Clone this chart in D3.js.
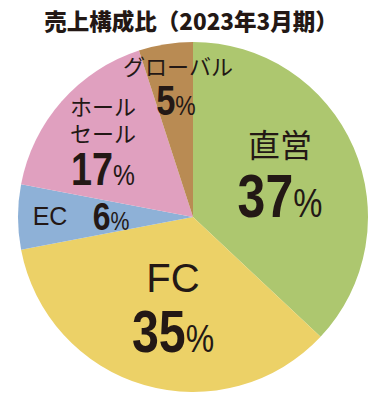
<!DOCTYPE html>
<html>
<head>
<meta charset="utf-8">
<script src="https://cdn.jsdelivr.net/npm/d3@7"></script>
<style>
  body { margin: 0; background: #fff; }
  svg text { fill: #231815; }
</style>
</head>
<body>
<div id="chart"></div>
<script>
// data
const categories = ["直営", "FC", "EC", "ホールセール", "グローバル"];
const shares = [37, 35, 6, 17, 5];
const colors = ["#adc76f", "#ecd167", "#8eb1d7", "#e0a0bf", "#b98b53"];

const width = 390, height = 409;
const cx = 193, cy = 217, radius = 175;

const svg = d3.select("#chart").append("svg")
    .attr("width", width)
    .attr("height", height);

// title
svg.append("text")
    .attr("x", 191)
    .attr("y", 30)
    .attr("text-anchor", "middle")
    .style("font-family", "'Noto Sans CJK JP'")
    .style("font-weight", 900)
    .style("font-size", "22.5px")
    .text("売上構成比（2023年3月期）");

const g = svg.append("g")
    .attr("transform", `translate(${cx}, ${cy})`);

const pie = d3.pie().sort(null).value(d => d.value);
const arc = d3.arc().innerRadius(0).outerRadius(radius);

const data = categories.map((c, i) => ({name: c, value: shares[i], color: colors[i]}));

g.selectAll(".slice")
    .data(pie(data))
    .enter().append("path")
    .attr("class", "slice")
    .attr("d", arc)
    .style("fill", d => d.data.color);

// labels (name lines + big percentage)
const labels = [
    {lines: ["直営"], lx: 280, ly: 157, nameSize: 32, px: 280, py: 217, pctSize: 61},
    {lines: ["FC"], lx: 173, ly: 292, nameSize: 40, px: 173, py: 352, pctSize: 59, latin: true},
    {lines: ["EC"], lx: 50, ly: 225, nameSize: 25, px: 111, py: 230, pctSize: 39, latin: true},
    {lines: ["ホール", "セール"], lx: 103, ly: 115, nameSize: 22, lineH: 27, px: 103, py: 185, pctSize: 46},
    {lines: ["グローバル"], lx: 178, ly: 75, nameSize: 22, px: 176, py: 115, pctSize: 42}
];

labels.forEach((l, i) => {
    let name = svg.append("text")
        .attr("x", l.lx)
        .attr("y", l.ly)
        .attr("text-anchor", "middle")
        .style("font-family", l.latin ? "'Liberation Sans', Arial" : "'Noto Sans CJK JP'")
        .style("font-size", l.nameSize + "px");
    l.lines.forEach((t, j) => {
        name.append("tspan")
            .attr("x", l.lx)
            .attr("dy", j == 0 ? 0 : l.lineH)
            .text(t);
    });

    // condensed bold numbers
    let pct = svg.append("text")
        .attr("transform", `translate(${l.px}, ${l.py}) scale(0.82, 1)`)
        .attr("text-anchor", "middle")
        .style("font-family", "'Liberation Sans', Arial")
        .style("font-weight", 700)
        .style("font-size", l.pctSize + "px");
    pct.append("tspan").text(shares[i]);
    pct.append("tspan")
        .style("font-size", Math.round(l.pctSize * 0.66) + "px")
        .style("font-weight", 400)
        .text("%");
});
</script>
</body>
</html>
